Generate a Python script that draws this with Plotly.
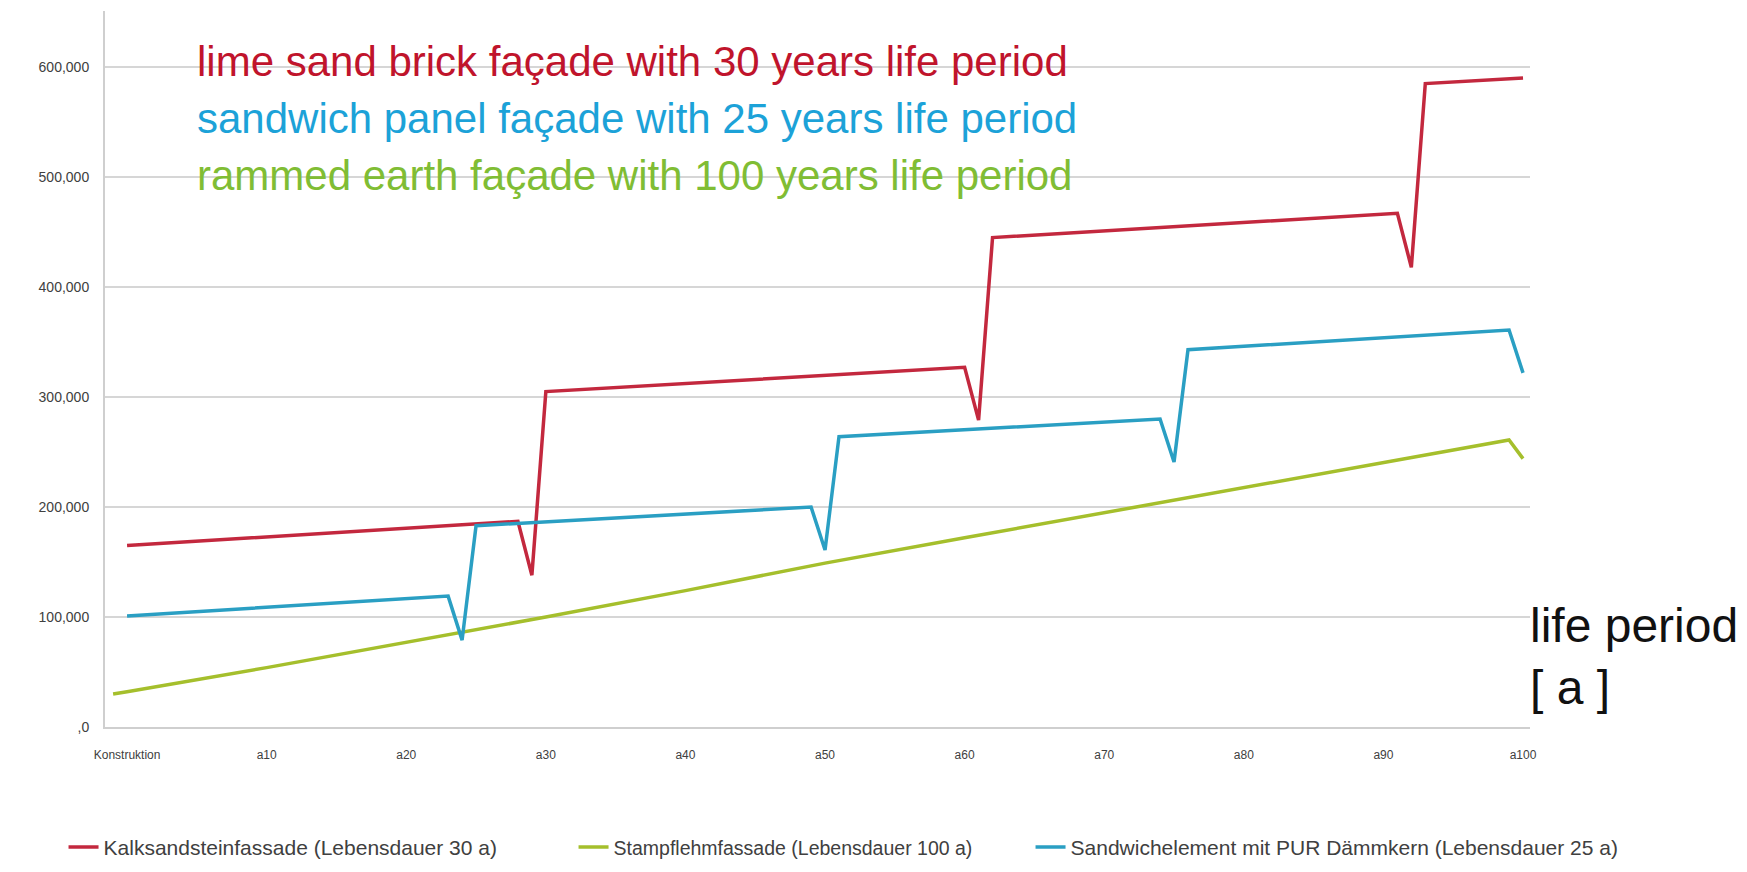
"""Lebenszykluskosten Fassaden"""
import plotly.graph_objects as go

# --- data ---
x_tick_vals = [0, 10, 20, 30, 40, 50, 60, 70, 80, 90, 100]
x_tick_text = ['Konstruktion', 'a10', 'a20', 'a30', 'a40', 'a50',
               'a60', 'a70', 'a80', 'a90', 'a100']
y_tick_vals = [0, 100000, 200000, 300000, 400000, 500000, 600000]
y_tick_text = [',0', '100,000', '200,000', '300,000', '400,000', '500,000', '600,000']

kalksand_years = [0, 28, 29, 30, 60, 61, 62, 91, 92, 93, 100]
kalksand_values = [165000, 187000, 138000, 305000, 327000, 279000,
                   445000, 467000, 418000, 585000, 590000]

# the green line already starts a little left of "Konstruktion"
stampflehm_years = [-1, 0, 10, 20, 30, 40, 50, 60, 70, 80, 90, 99, 100]
stampflehm_values = [30000, 32000, 54000, 77000, 100000, 124000, 149000,
                     172000, 195000, 218000, 241000, 261000, 244000]

sandwich_years = [0, 23, 24, 25, 49, 50, 51, 74, 75, 76, 99, 100]
sandwich_values = [101000, 119000, 79000, 183000, 200000, 161000,
                   264000, 280000, 241000, 343000, 361000, 322000]

series_names = ['Kalksandsteinfassade (Lebensdauer 30 a)',
                'Stampflehmfassade (Lebensdauer 100 a)',
                'Sandwichelement mit PUR Dämmkern (Lebensdauer 25 a)']

COLORS = {
    'red': '#c3283e',
    'green': '#a5bf2c',
    'blue': '#2a9fc3',
}
FONT = 'Liberation Sans, Arial, sans-serif'

fig = go.Figure()

fig.add_trace(go.Scatter(x=kalksand_years, y=kalksand_values, mode='lines',
                         name=series_names[0], legend='legend',
                         line=dict(color=COLORS['red'], width=3.5)))
fig.add_trace(go.Scatter(x=stampflehm_years, y=stampflehm_values, mode='lines',
                         name=series_names[1], legend='legend2',
                         line=dict(color=COLORS['green'], width=3.5)))
fig.add_trace(go.Scatter(x=sandwich_years, y=sandwich_values, mode='lines',
                         name=series_names[2], legend='legend3',
                         line=dict(color=COLORS['blue'], width=3.5)))

# white box behind the big labels (hides the grid lines there)
fig.add_shape(type='rect', xref='paper', yref='paper',
              x0=0.0477, x1=0.751, y0=0.725, y1=0.976,
              fillcolor='white', line=dict(width=0), layer='between')

labels = [
    ('lime sand brick façade with 30 years life period', '#c0142c', 0.9288),
    ('sandwich panel façade with 25 years life period', '#1ca2d8', 0.8497),
    ('rammed earth façade with 100 years life period', '#80bd34', 0.770),
]
for text, col, ypos in labels:
    fig.add_annotation(text=text, xref='paper', yref='paper', x=0.0632, y=ypos,
                       xanchor='left', yanchor='middle', showarrow=False,
                       font=dict(size=42, color=col, family=FONT))

fig.add_annotation(text='life period<br>[ a ]', xref='paper', yref='paper',
                   x=0.9986, y=0.099, xanchor='left', yanchor='middle',
                   align='left', showarrow=False,
                   font=dict(size=48, color='#111111', family=FONT))


def legend_box(xpos, size=21):
    return dict(
        orientation='h',
        x=xpos,
        xanchor='left',
        y=-0.168,
        yanchor='middle',
        font=dict(size=size, color='#404040', family=FONT),
        bgcolor='rgba(0,0,0,0)',
    )


fig.update_layout(
    width=1747,
    height=872,
    autosize=False,
    plot_bgcolor='white',
    paper_bgcolor='white',
    font=dict(family=FONT, color='#404040'),
    margin=dict(l=97, r=225, t=3, b=153),
    xaxis=dict(
        range=[-1.58, 100.5],
        tickmode='array',
        tickvals=x_tick_vals,
        ticktext=x_tick_text,
        showgrid=False,
        zeroline=False,
        showline=True,
        linecolor='#cfcfcf',
        linewidth=2,
        ticks='outside',
        ticklen=16,
        tickcolor='rgba(0,0,0,0)',
        tickfont=dict(size=12, color='#404040'),
    ),
    yaxis=dict(
        range=[0, 651000],
        tickmode='array',
        tickvals=y_tick_vals,
        ticktext=y_tick_text,
        showgrid=True,
        gridcolor='#d6d6d6',
        gridwidth=2,
        zeroline=False,
        showline=True,
        linecolor='#cfcfcf',
        linewidth=2,
        ticks='outside',
        ticklen=11,
        tickcolor='rgba(0,0,0,0)',
        tickfont=dict(size=14, color='#404040'),
    ),
    legend=legend_box(-0.0291),
    legend2=legend_box(0.3288, 19.5),
    legend3=legend_box(0.6495),
    showlegend=True,
)

fig.write_html("out.html")
